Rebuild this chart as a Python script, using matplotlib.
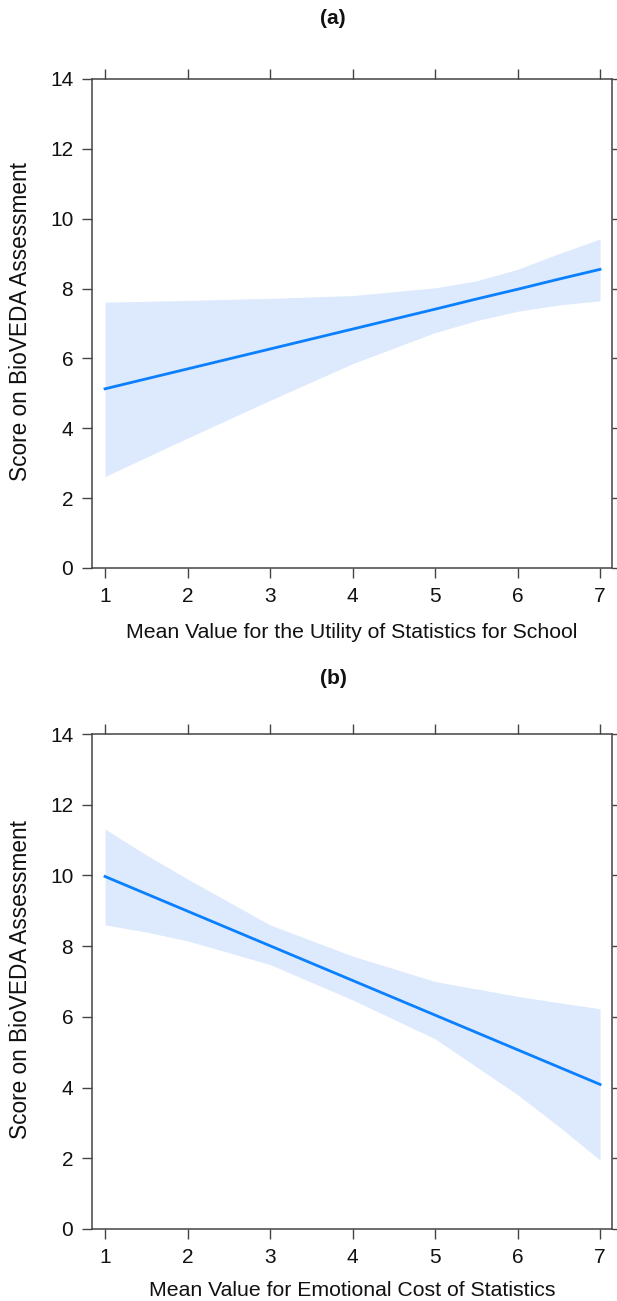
import matplotlib
matplotlib.use("Agg")
import matplotlib.pyplot as plt
import numpy as np

plt.rcParams['font.family'] = ['Liberation Sans', 'DejaVu Sans']

# Panel (a): Utility of Statistics for School
x_a = [1, 2, 3, 4, 5, 5.5, 6, 6.5, 7]
fit_a = [5.13, 5.70, 6.27, 6.84, 7.41, 7.70, 7.98, 8.27, 8.55]
upper_a = [7.61, 7.66, 7.72, 7.80, 8.02, 8.22, 8.55, 9.00, 9.42]
lower_a = [2.62, 3.72, 4.80, 5.85, 6.74, 7.08, 7.35, 7.53, 7.65]

# Panel (b): Emotional Cost of Statistics
x_b = [1, 1.5, 2, 3, 4, 5, 6, 6.5, 7]
fit_b = [9.97, 9.48, 8.99, 8.01, 7.03, 6.05, 5.07, 4.58, 4.09]
upper_b = [11.31, 10.58, 9.90, 8.60, 7.72, 7.00, 6.58, 6.40, 6.23]
lower_b = [8.60, 8.40, 8.15, 7.48, 6.48, 5.38, 3.80, 2.90, 1.95]

titles = ["(a)", "(b)"]
xlabels = ["Mean Value for the Utility of Statistics for School",
           "Mean Value for Emotional Cost of Statistics"]
ylabel = "Score on BioVEDA Assessment"
xticks = [1, 2, 3, 4, 5, 6, 7]
yticks = [0, 2, 4, 6, 8, 10, 12, 14]

W, H = 617, 1301
fig = plt.figure(figsize=(W / 100, H / 100), dpi=100)

frame_col = "#444444"
fill_col = "#dde9fc"
line_col = "#0a80ff"
text_col = "#111111"
fs = 15

panels = [
    (x_a, fit_a, upper_a, lower_a, 79, 568),
    (x_b, fit_b, upper_b, lower_b, 734, 1229),
]
title_y = [18, 678]
xlabel_y = [632, 1290]

for i, (xs, fit, up, lo, top, bot) in enumerate(panels):
    left, right = 92, 612
    ax = fig.add_axes([left / W, 1 - bot / H, (right - left) / W, (bot - top) / H])
    ax.fill_between(xs, lo, up, color=fill_col, linewidth=0)
    ax.plot(xs, fit, color=line_col, linewidth=2)
    ax.set_xlim(0.842, 7.145)
    ax.set_ylim(0, 14)
    ax.set_xticks(xticks)
    ax.set_yticks(yticks)
    ax.tick_params(direction='out', length=7, width=1, color=frame_col,
                   labelsize=fs, labelcolor=text_col,
                   top=True, right=True, labeltop=False, labelright=False,
                   pad=6.5)
    for s in ax.spines.values():
        s.set_color(frame_col)
        s.set_linewidth(1.1)
    fig.text(21 / W, 1 - ((top + bot) / 2 - 2) / H, ylabel, rotation=90,
             ha='center', va='center', fontsize=16.3, color=text_col)
    fig.text(352 / W, 1 - xlabel_y[i] / H, xlabels[i], ha='center', va='center',
             fontsize=15.3, color=text_col)
    fig.text(333 / W, 1 - title_y[i] / H, titles[i], ha='center', va='center',
             fontsize=15, fontweight='bold', color=text_col)

fig.savefig("out.png", dpi=100)
